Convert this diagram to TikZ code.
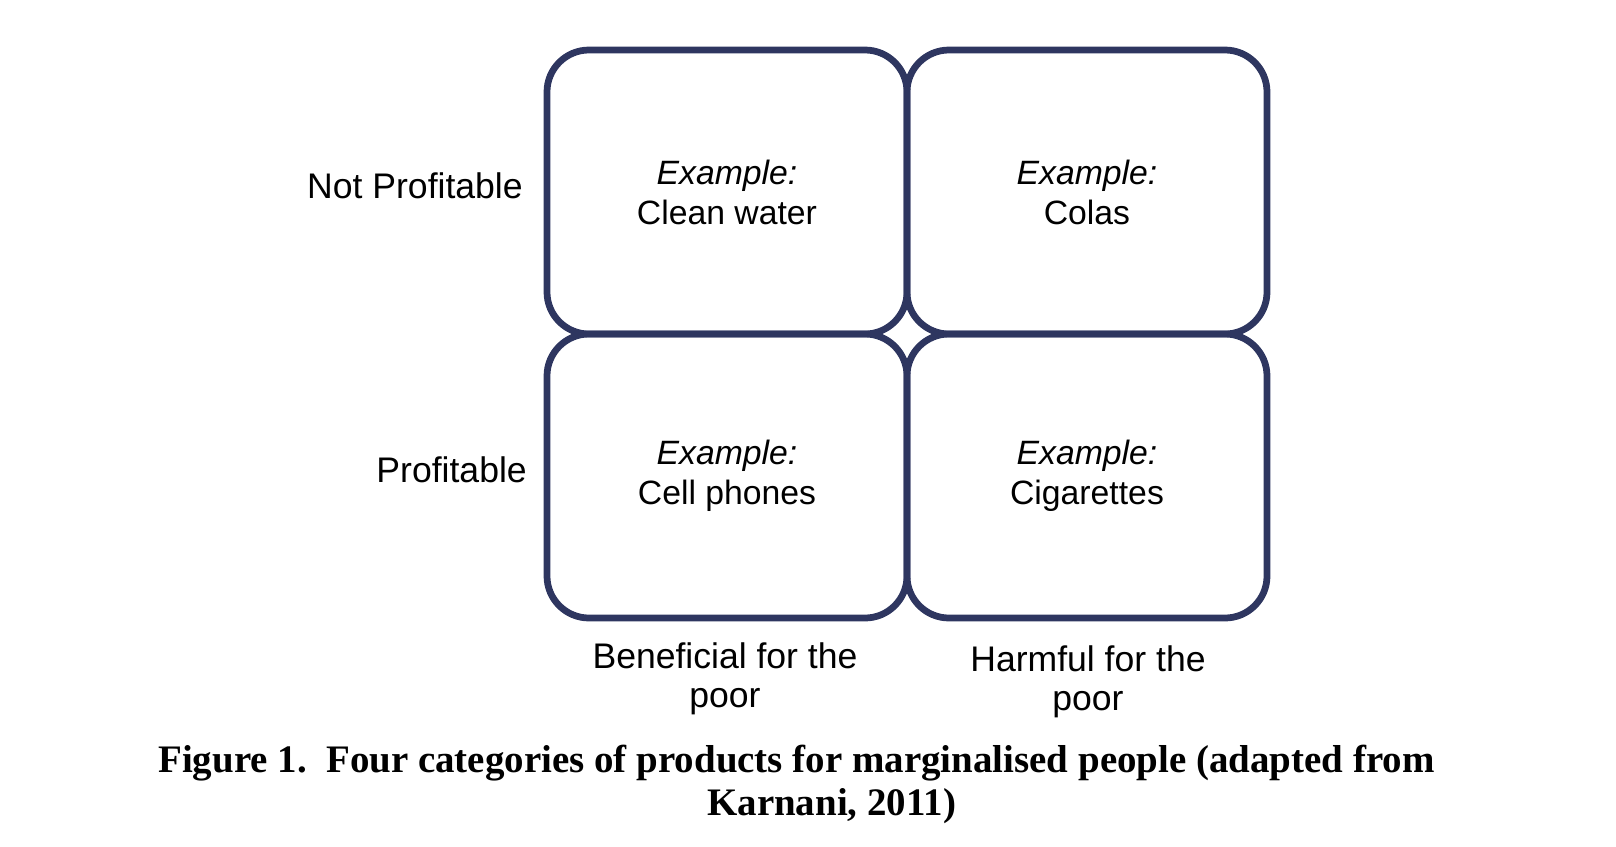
\documentclass[tikz,border=0pt]{standalone}
\usepackage{fontspec}
\setmainfont{Liberation Sans}
\newfontfamily\capfont{Liberation Serif}
\usepackage{tikz}
\definecolor{boxnavy}{RGB}{46,54,96}

\begin{document}
\begin{tikzpicture}[auto,
  cell/.style={draw=boxnavy, line width=4.8pt, rounded corners=1.05cm,
    minimum width=9cm, minimum height=7.1cm, inner sep=0pt, align=center,
    font=\fontsize{24}{28.5}\selectfont},
  axis/.style={inner sep=0pt, align=center, font=\fontsize{25.3}{27.5}\selectfont},
  caption/.style={inner sep=0pt, font=\capfont\bfseries\fontsize{27.7}{34}\selectfont}]
\useasboundingbox (0,0) rectangle (40.4,-21.15);
\node (WATER) [cell] at (18.175,-4.8) {\textit{Example:}\\Clean water};
\node (COLAS) [cell] at (27.175,-4.8) {\textit{Example:}\\Colas};
\node (PHONES) [cell] at (18.175,-11.9) {\textit{Example:}\\Cell phones};
\node (CIGS) [cell] at (27.175,-11.9) {\textit{Example:}\\Cigarettes};
\node (NOTPROF) [axis, anchor=base east] at (13.075,-4.95) {Not Profitable};
\node (PROF) [axis, anchor=base east] at (13.175,-12.05) {Profitable};
\node (BENEF) [axis, anchor=base] at (18.125,-17.675) {Beneficial for the\\poor};
\node (HARM) [axis, anchor=base] at (27.2,-17.75) {Harmful for the\\poor};
\node (CAPA) [caption, anchor=base west] at (3.95,-19.3) {Figure 1.\ \ Four categories of products for marginalised people (adapted from};
\node (CAPB) [caption, anchor=base west] at (17.675,-20.375) {Karnani, 2011)};
\end{tikzpicture}
\end{document}
